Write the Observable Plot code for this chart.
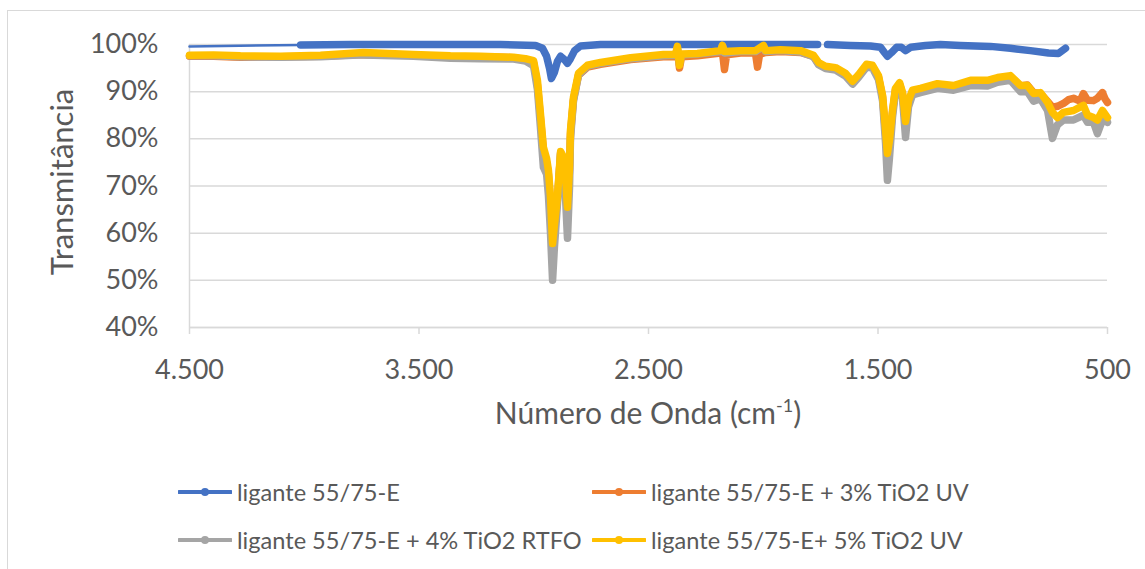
<!DOCTYPE html>
<html><head><meta charset="utf-8">
<script src="https://cdn.jsdelivr.net/npm/d3@7"></script>
<script src="https://cdn.jsdelivr.net/npm/@observablehq/plot@0.6"></script>
<style>
html,body{margin:0;padding:0;background:#fff;}
body{width:1145px;height:569px;overflow:hidden;position:relative;font-family:Lato,"Noto Sans",sans-serif;color:#595959;}
#frame{position:absolute;left:7px;top:10px;width:1300px;height:700px;border:1.5px solid #d9d9d9;box-sizing:border-box;}
#chart{position:absolute;left:0;top:0;}
#xlabel{position:absolute;left:189px;width:918px;top:395px;text-align:center;font-size:30px;line-height:34px;}
#xlabel sup{font-size:18px;vertical-align:0;position:relative;top:-12px;}
.leg{position:absolute;display:flex;align-items:center;font-size:23.6px;line-height:28px;white-space:nowrap;}
.leg svg{margin-right:5px;}
</style></head>
<body>
<div id="frame"></div>
<div id="chart"></div>
<div id="xlabel">Número de Onda (cm<sup>-1</sup>)</div>
<div id="legend"></div>
<script>
const seriesNames = ["ligante 55/75-E", "ligante 55/75-E + 3% TiO2 UV", "ligante 55/75-E + 4% TiO2 RTFO", "ligante 55/75-E+ 5% TiO2 UV"];
const seriesColors = ["#4472C4", "#ED7D31", "#A5A5A5", "#FFC000"];
const xTicks = [4500, 3500, 2500, 1500, 500];
const yTicks = [40, 50, 60, 70, 80, 90, 100];

// [wavenumber cm-1, transmittance %]
const ligante = [[4500,99.6],[4016,99.9],[3800,100],[3581,100],[3363,100],[3145,100],[2992,99.8],[2962,99.2],[2944,97.5],[2931,94.9],[2923,92.8],[2910,94.1],[2897,96.4],[2883,97.5],[2866,96.8],[2853,96.0],[2840,97.0],[2822,98.7],[2796,99.7],[2709,100],[2500,100],[2273,100],[2050,100],[1850,100],[1763,100],[1740,NaN],[1720,100],[1620,99.8],[1533,99.7],[1489,99.4],[1472,98.3],[1459,97.5],[1441,98.3],[1419,99.4],[1398,99.4],[1380,98.7],[1358,99.4],[1293,99.8],[1228,100],[1141,99.8],[1010,99.6],[923,99.2],[836,98.7],[757,98.2],[714,98.1],[683,99.2]];

const tio3 = [[4500,97.5],[4395,97.5],[4278,97.3],[4103,97.4],[3929,97.5],[3742,97.9],[3524,97.7],[3363,97.4],[3232,97.4],[3088,97.2],[3036,96.8],[3001,96.2],[2984,91.5],[2971,84.5],[2958,77.5],[2944,75.0],[2936,72.5],[2927,66.5],[2918,58.0],[2910,61.0],[2897,67.0],[2883,77.0],[2870,75.5],[2862,71.5],[2853,65.0],[2844,73.5],[2840,81.0],[2827,88.3],[2805,93.5],[2766,95.2],[2709,95.8],[2578,96.8],[2435,97.4],[2382,97.4],[2374,98.8],[2365,95.0],[2356,97.4],[2287,97.6],[2186,98.2],[2178,98.5],[2169,94.7],[2160,97.8],[2099,98.2],[2034,98.2],[2025,95.2],[2016,97.9],[1990,98.3],[1925,98.5],[1838,98.3],[1781,97.5],[1759,95.9],[1729,95.1],[1685,94.8],[1642,93.6],[1611,91.9],[1585,93.3],[1550,95.5],[1524,95.3],[1498,93.1],[1480,88.8],[1467,81.0],[1459,76.5],[1450,79.0],[1437,85.5],[1424,90.4],[1406,91.6],[1393,89.5],[1380,83.0],[1367,87.8],[1350,90.0],[1315,90.5],[1241,91.5],[1171,91.1],[1097,92.2],[1023,92.2],[979,92.8],[923,93.2],[879,91.2],[849,91.4],[822,89.8],[792,89.6],[761,87.9],[740,86.7],[718,86.9],[692,87.5],[670,88.3],[648,88.6],[620,88.0],[605,89.6],[587,88.2],[561,88.1],[544,88.6],[522,89.8],[510,88.4],[500,87.7]];

const tio4 = [[4500,97.6],[4395,97.6],[4278,97.4],[4103,97.3],[3929,97.4],[3742,97.8],[3524,97.5],[3363,97.1],[3232,97.0],[3088,96.9],[3036,96.5],[3001,95.5],[2984,90.5],[2971,82.5],[2958,74.0],[2944,72.5],[2936,68.0],[2927,60.0],[2918,50.0],[2910,57.0],[2897,66.0],[2883,77.0],[2870,74.0],[2862,68.0],[2853,58.9],[2844,70.0],[2840,80.0],[2827,88.0],[2805,93.5],[2766,95.4],[2709,96.0],[2578,97.0],[2435,97.6],[2382,97.7],[2374,99.4],[2365,95.8],[2356,97.8],[2287,98.0],[2186,98.5],[2178,99.8],[2169,98.2],[2099,98.5],[2034,98.5],[1999,99.7],[1990,98.5],[1925,98.7],[1838,98.4],[1781,97.4],[1759,95.7],[1729,94.9],[1685,94.6],[1642,93.3],[1611,91.6],[1585,93.0],[1550,95.2],[1524,95.0],[1498,92.6],[1480,88.0],[1467,79.0],[1459,71.2],[1450,76.0],[1437,84.5],[1424,89.8],[1406,91.0],[1393,88.5],[1380,80.3],[1367,86.8],[1350,89.3],[1315,89.8],[1241,90.7],[1171,90.3],[1097,91.3],[1023,91.2],[979,92.0],[923,92.4],[879,90.0],[849,90.0],[822,88.0],[792,88.5],[761,86.0],[740,80.1],[718,83.0],[692,84.0],[648,84.0],[605,85.0],[587,83.5],[561,83.5],[544,81.1],[522,84.0],[500,83.5]];

const tio5 = [[4500,97.7],[4395,97.8],[4278,97.6],[4103,97.5],[3929,97.7],[3742,98.3],[3524,97.9],[3363,97.6],[3232,97.5],[3088,97.3],[3036,97.0],[3001,96.6],[2984,92.4],[2971,85.4],[2958,78.2],[2944,75.8],[2936,73.3],[2927,67.6],[2918,57.8],[2910,61.7],[2897,67.6],[2883,77.3],[2870,76.1],[2862,72.2],[2853,65.5],[2844,74.4],[2840,81.8],[2827,88.8],[2805,93.9],[2766,95.6],[2709,96.2],[2578,97.2],[2435,97.9],[2382,97.9],[2374,99.6],[2365,95.6],[2356,98.0],[2287,98.1],[2186,98.7],[2178,99.8],[2169,98.5],[2099,98.7],[2034,98.7],[1999,99.8],[1990,98.7],[1925,98.9],[1838,98.7],[1781,97.7],[1759,96.2],[1729,95.4],[1685,95.1],[1642,93.9],[1611,92.2],[1585,93.6],[1550,95.8],[1524,95.6],[1498,93.4],[1480,89.2],[1467,81.8],[1459,76.9],[1450,79.7],[1437,86.0],[1424,90.7],[1406,91.9],[1393,89.8],[1380,83.7],[1367,88.1],[1350,90.3],[1315,90.7],[1241,91.7],[1171,91.3],[1097,92.4],[1023,92.4],[979,93.0],[923,93.4],[879,91.3],[849,91.3],[822,89.6],[792,89.8],[761,87.7],[740,85.6],[718,84.5],[692,85.6],[648,86.0],[605,87.1],[587,85.0],[561,84.5],[544,84.0],[522,86.0],[500,84.5]];

const seriesData = [ligante, tio3, tio4, tio5];

// dense stretches (drawn with markers) vs a long sparse join (thin line only)
function toRows(pts, name) {
  let seg = 0;
  return pts.map((p, i) => {
    if (i > 0 && Math.abs(p[0] - pts[i - 1][0]) > 400) seg++;
    return {series: name, wn: p[0], t: p[1], seg};
  });
}

const xFmt = d3.formatLocale({decimal: ",", thousands: ".", grouping: [3], currency: ["R$", ""]}).format(",d");

const lineMarks = [];
seriesData.forEach((pts, k) => {
  const rows = toRows(pts, seriesNames[k]);
  const counts = d3.rollup(rows, v => v.length, d => d.seg);
  const dense = rows.filter(d => counts.get(d.seg) > 1);
  lineMarks.push(Plot.line(rows, {x: "wn", y: "t", stroke: seriesColors[k], strokeWidth: 2.5, strokeLinejoin: "round", strokeLinecap: "round"}));
  lineMarks.push(Plot.line(dense, {x: "wn", y: "t", z: "seg", stroke: seriesColors[k], strokeWidth: 7.5, strokeLinejoin: "round", strokeLinecap: "round"}));
});

const chart = Plot.plot({
  width: 1145, height: 390,
  marginLeft: 189, marginRight: 38, marginTop: 44, marginBottom: 63,
  style: {fontFamily: "Lato, 'Noto Sans', sans-serif", fontSize: "27px", color: "#595959", background: "transparent", overflow: "visible"},
  x: {domain: [xTicks[0], xTicks[xTicks.length - 1]]},
  y: {domain: [yTicks[0], yTicks[yTicks.length - 1]]},
  marks: [
    Plot.gridY(yTicks, {stroke: "#d9d9d9", strokeOpacity: 1, strokeWidth: 1.5}),
    Plot.ruleX([xTicks[0]], {stroke: "#d9d9d9", strokeWidth: 1.5}),
    Plot.ruleY([yTicks[0]], {stroke: "#d9d9d9", strokeWidth: 1.5}),
    Plot.axisX(xTicks, {tickFormat: xFmt, tickSize: 7, tickPadding: 25, stroke: "#d9d9d9", strokeWidth: 1.5, fill: "#595959", label: null, fontSize: 27}),
    Plot.axisY(yTicks, {tickFormat: d => d + "%", tickSize: 0, tickPadding: 31, fill: "#595959", label: null, fontSize: 27}),
    ...lineMarks,
    Plot.text(["Transmitância"], {frameAnchor: "left", dx: -126, dy: -4, rotate: -90, textAnchor: "middle", fill: "#595959", fontSize: 31})
  ]
});
document.getElementById("chart").appendChild(chart);

// legend
const legPos = [[178, 492], [592, 492], [178, 540], [592, 540]];
const legend = document.getElementById("legend");
seriesNames.forEach((name, k) => {
  const el = document.createElement("div");
  el.className = "leg";
  el.style.left = legPos[k][0] + "px";
  el.style.top = (legPos[k][1] - 14) + "px";
  el.innerHTML = `<svg width="54" height="12"><line x1="1" y1="6" x2="53" y2="6" stroke="${seriesColors[k]}" stroke-width="4" stroke-linecap="round"/><circle cx="27" cy="6" r="4" fill="${seriesColors[k]}"/></svg><span>${name}</span>`;
  legend.appendChild(el);
});
</script>
</body></html>
